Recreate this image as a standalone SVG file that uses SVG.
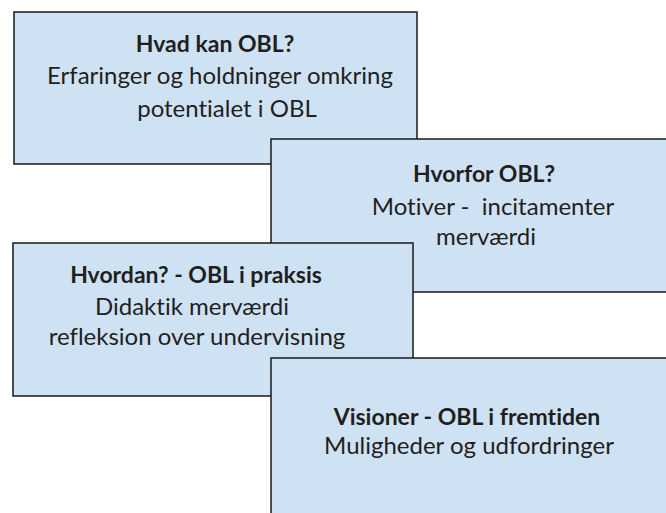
<svg xmlns="http://www.w3.org/2000/svg" width="666" height="513" viewBox="0 0 666 513">
  <style>
    .card { fill: #cfe2f3; stroke: #1a1a1a; stroke-width: 1.5; }
    .t { font-family: Lato, "Open Sans", sans-serif; font-size: 24px; fill: #1f1f1f; text-anchor: middle; font-variant-ligatures: none; }
    .b { font-weight: bold; font-size: 23px; }
  </style>
  <rect x="0" y="0" width="666" height="513" fill="#ffffff"/>
  <g id="node-hvad">
    <rect class="card" x="14" y="12" width="403" height="152"/>
    <text class="t b" x="215" y="52">Hvad kan OBL?</text>
    <text class="t" x="220" y="84">Erfaringer og holdninger omkring</text>
    <text class="t" x="227" y="117">potentialet i OBL</text>
  </g>
  <g id="node-hvorfor">
    <rect class="card" x="271" y="139" width="420" height="153"/>
    <text class="t b" x="484" y="182">Hvorfor OBL?</text>
    <text class="t" x="493" y="215" xml:space="preserve">Motiver -  incitamenter</text>
    <text class="t" x="486" y="245">merværdi</text>
  </g>
  <g id="node-hvordan">
    <rect class="card" x="13" y="243" width="400" height="153"/>
    <text class="t b" x="196" y="283">Hvordan? - OBL i praksis</text>
    <text class="t" x="192" y="315">Didaktik merværdi</text>
    <text class="t" x="197" y="345">refleksion over undervisning</text>
  </g>
  <g id="node-visioner">
    <rect class="card" x="271" y="358" width="420" height="180"/>
    <text class="t b" x="467" y="425">Visioner - OBL i fremtiden</text>
    <text class="t" x="469" y="454">Muligheder og udfordringer</text>
  </g>
  <g id="connectors"></g>
</svg>
